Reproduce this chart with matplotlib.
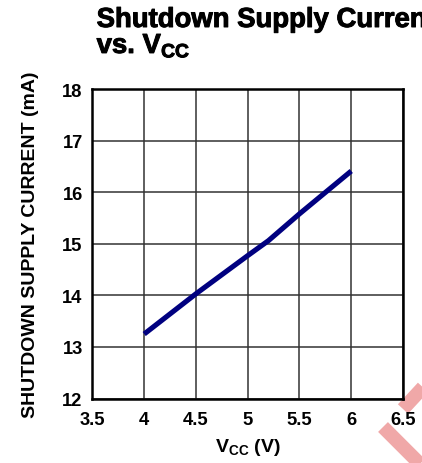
import matplotlib
matplotlib.use("Agg")
import matplotlib.pyplot as plt
import matplotlib.patheffects as pe
from matplotlib.lines import Line2D

plt.rcParams['font.family'] = ['Liberation Sans', 'DejaVu Sans']
plt.rcParams['font.weight'] = 'bold'
plt.rcParams['axes.labelweight'] = 'bold'
plt.rcParams['mathtext.fontset'] = 'custom'
plt.rcParams['mathtext.rm'] = 'Liberation Sans:bold'
plt.rcParams['mathtext.default'] = 'rm'

# data
vcc = [4.0, 4.5, 5.0, 5.2, 5.5, 6.0]
current = [13.25, 14.03, 14.77, 15.06, 15.58, 16.41]

x_ticks = [3.5, 4, 4.5, 5, 5.5, 6, 6.5]
x_labels = ['3.5', '4', '4.5', '5', '5.5', '6', '6.5']
y_ticks = [12, 13, 14, 15, 16, 17, 18]

fig = plt.figure(figsize=(4.22, 4.64), dpi=100)
ax = fig.add_axes([0.219, 0.139, 0.736, 0.667])

ax.plot(vcc, current, color='#000080', linewidth=3.7, solid_capstyle='butt', zorder=3)

ax.set_xlim(3.5, 6.5)
ax.set_ylim(12, 18)
ax.set_xticks(x_ticks)
ax.set_xticklabels(x_labels)
ax.set_yticks(y_ticks)
ax.tick_params(axis='x', length=0, labelsize=13.2, pad=9)
ax.tick_params(axis='y', length=0, labelsize=13.2, pad=7)
ax.grid(True, color='#333333', linewidth=1.1)
for s in ax.spines.values():
    s.set_linewidth(1.8)
    s.set_color('black')

ax.set_xlabel(r'V$_{\mathrm{CC}}$ (V)', fontsize=14, labelpad=6)
ax.set_ylabel('SHUTDOWN SUPPLY CURRENT (mA)', fontsize=14, labelpad=17)

heavy = [pe.withStroke(linewidth=0.7, foreground='black')]
fig.text(0.229, 1 - 28 / 464, 'Shutdown Supply Current', fontsize=19.8, fontweight='bold',
         va='baseline', ha='left', path_effects=heavy)
fig.text(0.229, 1 - 54 / 464, r'vs. V$_{\mathrm{CC}}$', fontsize=19.8, fontweight='bold',
         va='baseline', ha='left', path_effects=heavy)

# pink watermark fragment in lower right corner
fig.add_artist(Line2D([383 / 422, 430 / 422], [1 - 428 / 464, 1 - 475 / 464],
                      transform=fig.transFigure, color='#f0a8a8', linewidth=10,
                      solid_capstyle='butt', zorder=0))
fig.add_artist(Line2D([403 / 422, 428 / 422], [1 - 410 / 464, 1 - 383 / 464],
                      transform=fig.transFigure, color='#f0a8a8', linewidth=10,
                      solid_capstyle='butt', zorder=0))

fig.savefig('out.png', dpi=100)
